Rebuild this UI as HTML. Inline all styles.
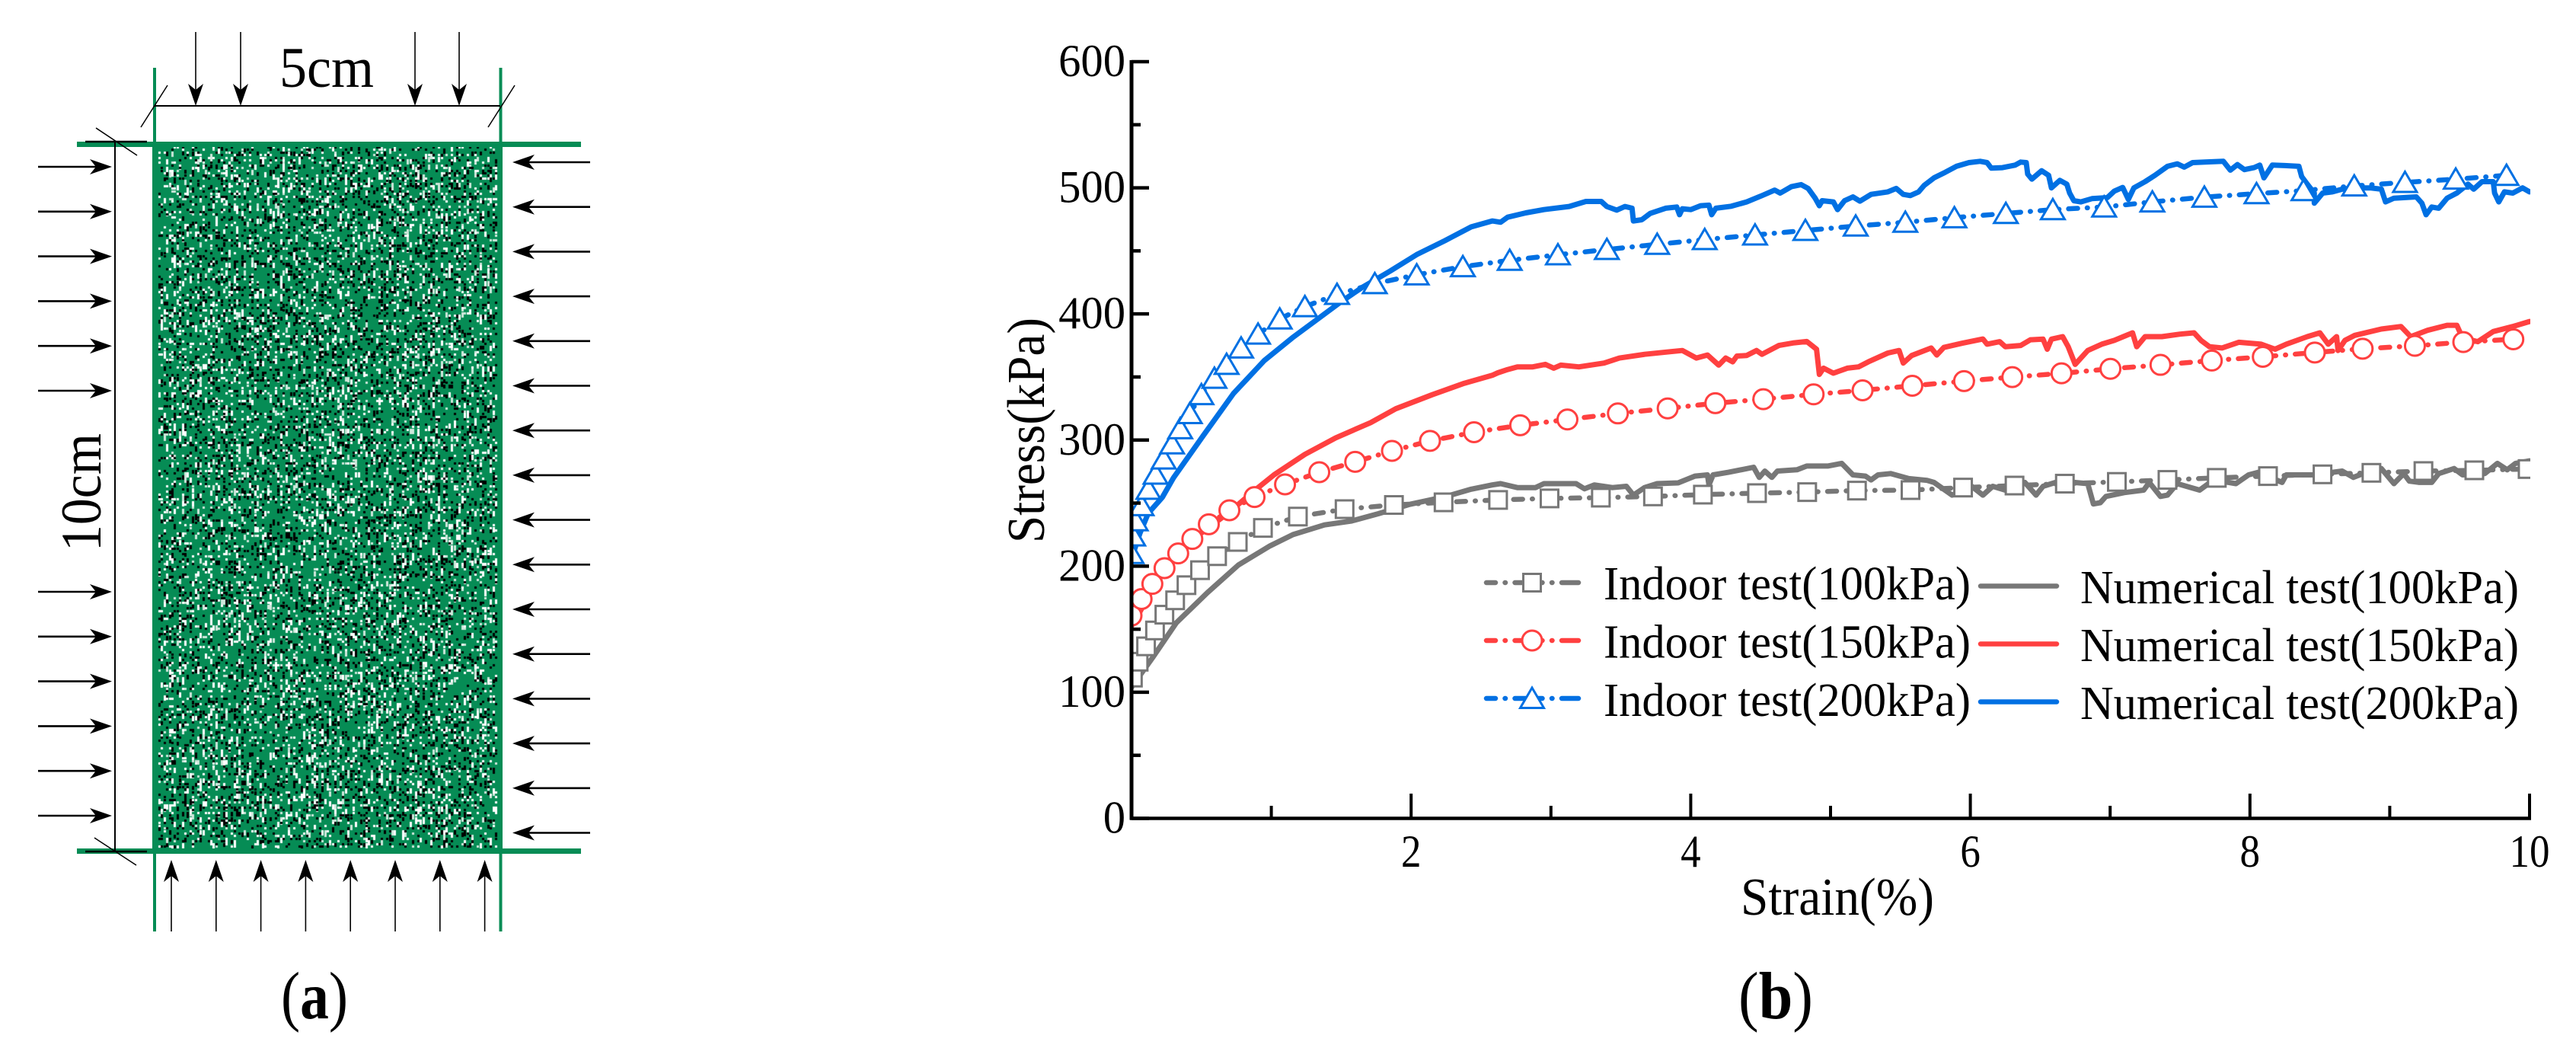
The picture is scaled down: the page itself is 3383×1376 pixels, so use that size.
<!DOCTYPE html>
<html lang="en">
<head>
<meta charset="utf-8">
<title>Specimen schematic and stress-strain curves</title>
<style>
html,body{margin:0;padding:0;background:#fff;}
#page{position:relative;width:3383px;height:1376px;overflow:hidden;background:#fff;}
#speckle{position:absolute;left:200px;top:186px;}
#fig{position:absolute;left:0;top:0;}
text{font-family:"Liberation Serif","DejaVu Serif",serif;fill:#000;}
</style>
</head>
<body>
<div id="page">
<canvas id="speckle" width="460" height="935"></canvas>
<svg id="fig" width="3383" height="1376" viewBox="0 0 3383 1376" xmlns="http://www.w3.org/2000/svg">
  <defs><clipPath id="plotClip"><rect x="1486" y="40" width="1837" height="1040"/></clipPath></defs>

  <g id="schematic">
    <rect x="101" y="186" width="662" height="7" fill="#068c55"/>
    <rect x="101" y="1114" width="662" height="7" fill="#068c55"/>
    <line x1="203" y1="89" x2="203" y2="188" stroke="#068c55" stroke-width="4"/>
    <line x1="657.5" y1="89" x2="657.5" y2="188" stroke="#068c55" stroke-width="4"/>
    <line x1="203" y1="1120" x2="203" y2="1223" stroke="#068c55" stroke-width="4"/>
    <line x1="657.5" y1="1120" x2="657.5" y2="1223" stroke="#068c55" stroke-width="4"/>
    <line x1="203" y1="139" x2="657" y2="139" stroke="#000" stroke-width="2"/>
    <line x1="220" y1="112" x2="185" y2="167" stroke="#000" stroke-width="1.5"/>
    <line x1="676" y1="112" x2="641" y2="167" stroke="#000" stroke-width="1.5"/>
    <line x1="151" y1="186" x2="151" y2="1118" stroke="#000" stroke-width="2"/>
    <line x1="112" y1="186" x2="193" y2="186" stroke="#000" stroke-width="2.5"/>
    <line x1="112" y1="1118" x2="193" y2="1118" stroke="#000" stroke-width="2.5"/>
    <line x1="126" y1="168" x2="180" y2="204" stroke="#000" stroke-width="1.5"/>
    <line x1="124" y1="1100" x2="179" y2="1136" stroke="#000" stroke-width="1.5"/>
    <text x="367" y="114" font-size="75" textLength="124" lengthAdjust="spacingAndGlyphs">5cm</text>
    <text transform="translate(132 724) rotate(-90)" font-size="75" textLength="155" lengthAdjust="spacingAndGlyphs">10cm</text>
    <text x="369" y="1337" font-size="88" textLength="88" lengthAdjust="spacingAndGlyphs">(<tspan font-weight="bold">a</tspan>)</text>
    <g id="arrows"></g>
  </g>

  <g id="chart">
    <g id="numerical" clip-path="url(#plotClip)"></g>
    <g id="indoor" clip-path="url(#plotClip)"></g>
    <g id="axes"></g>
    <text transform="translate(1371 713) rotate(-90)" font-size="70" textLength="296" lengthAdjust="spacingAndGlyphs">Stress(kPa)</text>
    <text x="2286" y="1201" font-size="70" textLength="254" lengthAdjust="spacingAndGlyphs">Strain(%)</text>
    <g id="legend"></g>
    <text x="2283" y="1337" font-size="88" textLength="98" lengthAdjust="spacingAndGlyphs">(<tspan font-weight="bold">b</tspan>)</text>
  </g>
</svg>
</div>
<script>
// ---------- chart data ----------
const yTickValues = [0,100,200,300,400,500,600];
const yMinorValues = [50,150,250,350,450,550];
const xTickValues = [2,4,6,8,10];
const xMinorValues = [1,3,5,7,9];
const legendIndoorLabels = ['Indoor test(100kPa)','Indoor test(150kPa)','Indoor test(200kPa)'];
const legendNumericalLabels = ['Numerical test(100kPa)','Numerical test(150kPa)','Numerical test(200kPa)'];

const numerical200Strain = [0,.06,.12,.22,.30,.51,.73,.95,1.15,1.32,1.49,1.65,1.85,2.04,2.24,2.43,2.58,2.64,2.69,2.82,2.95,3.13,3.25,3.36,3.40,3.47,3.53,3.58,3.59,3.65,3.71,3.82,3.90,3.92,3.94,4.00,4.07,4.13,4.15,4.18,4.29,4.40,4.51,4.60,4.64,4.72,4.79,4.84,4.89,4.92,4.94,5.02,5.05,5.10,5.16,5.21,5.29,5.41,5.47,5.52,5.57,5.63,5.67,5.74,5.82,5.90,5.99,6.07,6.12,6.15,6.23,6.32,6.36,6.40,6.41,6.44,6.51,6.56,6.58,6.64,6.69,6.71,6.74,6.79,6.87,6.98,7.03,7.09,7.13,7.17,7.25,7.32,7.41,7.48,7.53,7.59,7.68,7.81,7.86,7.91,7.96,8.03,8.07,8.10,8.16,8.25,8.35,8.37,8.41,8.46,8.46,8.52,8.59,8.66,8.75,8.86,8.94,8.97,9.03,9.19,9.23,9.26,9.30,9.35,9.41,9.48,9.56,9.60,9.66,9.74,9.75,9.78,9.82,9.88,9.95,10];
const numerical200Stress = [206,226,242,254.5,270,303,337,363,381,395,409,421,434,447,458,469,473.7,472.7,476.7,480.1,482.7,485.2,489.2,489.2,485.2,482.3,485.2,483.8,473.7,474.7,479.7,483.8,484.8,478.7,483.4,482.7,485.8,486.2,478.7,483.8,485.4,488.8,493.8,498.2,495.8,500.9,502.5,499.5,491.8,485.8,489.8,488.8,482.7,489.8,492.8,489.4,494.8,496.8,499.5,494.8,493.8,496.8,501.9,507.9,512.3,517,520,521,520,515.6,516,518,520.4,520,510.9,506.9,513.5,509.9,499.9,505.9,502.9,495.8,489.8,488.8,491.4,492.2,497.4,500.3,490.8,499.9,504.9,509.9,517,519,516.4,520,520.4,521,514,518.4,514.4,516,518,507.9,518,517.6,517,508.9,502.9,495.8,487.8,495.8,496.8,498.9,499.9,499.9,498.9,488.8,491.8,492.8,487.8,478.7,484.8,483.8,491.8,495.8,502.9,498.9,504.9,504.9,495.8,488.8,496.8,495.8,499.9,496.8];

const numerical150Strain = [0,.05,.2,.4,.69,.88,1.02,1.24,1.46,1.71,1.89,2.15,2.38,2.58,2.62,2.69,2.76,2.87,2.96,3.02,3.07,3.20,3.38,3.49,3.67,3.85,3.94,4.04,4.12,4.20,4.25,4.30,4.33,4.40,4.47,4.51,4.63,4.74,4.83,4.90,4.92,4.95,5.02,5.12,5.20,5.27,5.41,5.49,5.52,5.58,5.72,5.76,5.81,5.94,6.09,6.12,6.21,6.25,6.36,6.43,6.52,6.55,6.58,6.66,6.70,6.75,6.84,6.94,7.03,7.16,7.19,7.25,7.37,7.50,7.60,7.65,7.71,7.80,7.92,8.08,8.18,8.26,8.41,8.50,8.56,8.62,8.63,8.68,8.75,8.94,9.08,9.15,9.27,9.41,9.48,9.52,9.63,9.74,9.88,10];
const numerical150Stress = [152.7,161.8,192,218,242,260,272.5,288.6,301.7,313.8,324.8,335.9,345,351.3,353.3,355.9,358,358,360,357,359.4,358,361,365,368,370,371,365,367.4,359.4,365,362,366.6,367,371,368,375,377.1,378.1,372,352,357,353,357,358,362,369,371,361,367,373,367.4,373.4,376.7,380.1,376,378,374,375,379.5,380,372,380,382,374,360,371,376,379,385,374,382,382,384,385,379,374,373,377.5,376,372,376,382,385,376,382,371,379,383,388,390,382,387,391,391,381,378,386,390,394];

const numerical100Strain = [0,.154,.32,.543,.765,.99,1.155,1.38,1.57,1.765,1.99,2.24,2.43,2.58,2.64,2.76,2.89,2.95,3.18,3.24,3.31,3.44,3.54,3.59,3.67,3.76,3.91,4.03,4.12,4.13,4.16,4.27,4.45,4.49,4.53,4.58,4.62,4.76,4.83,4.98,5.08,5.16,5.25,5.29,5.34,5.43,5.56,5.69,5.74,5.87,6.01,6.09,6.16,6.25,6.39,6.47,6.52,6.61,6.74,6.84,6.88,6.93,6.97,7.10,7.24,7.28,7.36,7.41,7.48,7.64,7.74,7.90,7.99,8.06,8.23,8.26,8.45,8.66,8.74,8.81,8.94,9.03,9.10,9.14,9.21,9.30,9.35,9.46,9.52,9.68,9.77,9.84,9.90,10];
const numerical100Stress = [104,128,155,179,201,216,225,232.7,235.7,241.6,249,255,261,264.4,265.4,262.3,262.3,265.4,265.4,261.3,264.4,262.3,263.3,256.3,262.3,265.4,266,271.4,272.4,264.4,272.4,274.4,278.4,270.4,275.4,270.4,275.4,276.4,279.4,279.4,281.5,272.4,271.4,268.4,272.4,273.4,269.4,268,266.4,256.3,263.3,256.3,263.3,260.3,266.4,256.3,263.3,266.4,266.4,265.4,249.3,250.3,255.3,258.3,260.3,266.4,255.3,256.3,265.4,260.3,268.4,265.4,272.4,274.4,266.4,272.4,272.4,275.4,270.4,273.4,277.4,265.4,273.4,267.4,266.4,266.4,273.4,277.4,272.4,273.4,281.5,276.4,281.5,283.5];

const indoor200Strain = [0,.012,.03,.072,.121,.172,.23,.29,.348,.417,.50,.593,.68,.784,.905,1.06,1.24,1.47,1.74,2.04,2.37,2.705,3.05,3.40,3.76,4.10,4.46,4.82,5.18,5.535,5.886,6.254,6.59,6.957,7.302,7.674,8.047,8.383,8.746,9.109,9.472,9.835];
const indoor200Stress = [210,224,236,248,261,273,285,297,309,321,336,349,360,373,384,396,405.8,415.5,424,431,437.5,442.5,446.9,451.1,455.2,459,462.6,466.2,469.7,472.7,476.3,479.7,482.7,484.8,488.8,492.6,495.4,497.8,501.5,504.3,506.9,509.9];

const indoor150Strain = [0,.072,.149,.236,.334,.435,.553,.70,.88,1.098,1.343,1.60,1.863,2.135,2.45,2.78,3.118,3.479,3.835,4.176,4.519,4.879,5.229,5.585,5.955,6.30,6.652,7.002,7.36,7.727,8.092,8.464,8.806,9.18,9.526,9.884];
const indoor150Stress = [160.8,173.9,185.9,198.4,210.1,221.6,233.2,244.3,254.8,264.8,274.5,282.7,291.4,299.3,306.2,311.7,316.3,321.1,325.1,329.2,332.4,336.2,339.4,343,346.7,349.9,352.9,356.5,359.6,363,366,369.4,372.4,374.7,377.7,379.9];

const indoor100Strain = [.01,.051,.104,.168,.235,.312,.393,.49,.612,.76,.94,1.19,1.524,1.877,2.232,2.622,2.99,3.357,3.73,4.087,4.474,4.833,5.189,5.572,5.948,6.316,6.676,7.048,7.41,7.763,8.129,8.519,8.869,9.241,9.605,9.986];
const indoor100Stress = [111.6,124.2,136.4,149,161.5,172.9,184.9,196.8,207.9,219.2,230.3,239.3,245.2,248.5,250.6,252.5,253.7,254.3,255.3,256.7,257.9,258.7,259.9,260.3,262.3,263.9,265.4,266.8,268.4,270,271.4,272.8,274,275.4,276,277];

// ---------- axis functions ----------
const SVGNS = 'http://www.w3.org/2000/svg';
const plotLeft = 1486, plotRight = 3322, plotBottom = 1074.5, plotTop = 81;
const xMax = 10, yMax = 600;
function xScale(v){ return plotLeft + (plotRight - plotLeft) * v / xMax; }
function yScale(v){ return plotBottom - (plotBottom - plotTop) * v / yMax; }
function mk(tag, parent){ const e = document.createElementNS(SVGNS, tag); parent.appendChild(e); return e; }
function pathFrom(xs, ys){ return xs.map((x,i)=>(i?'L':'M')+xScale(x).toFixed(1)+' '+yScale(ys[i]).toFixed(1)).join(' '); }

const COLORS = {gray:'#777777', red:'#ff4040', blue:'#0070e3'};
const DASH = '12 12.5 0.5 12.5';

// ---------- numerical series ----------
const numG = document.getElementById('numerical');
function drawNumerical(xs, ys, color, name){
  const p = mk('path', numG);
  p.setAttribute('d', pathFrom(xs, ys));
  p.setAttribute('fill', 'none');
  p.setAttribute('stroke', color);
  p.setAttribute('stroke-width', '7');
  p.setAttribute('stroke-linejoin', 'round');
  p.setAttribute('stroke-linecap', 'round');
  
  
}
drawNumerical(numerical100Strain, numerical100Stress, COLORS.gray, 'numerical-line-100kpa');
drawNumerical(numerical150Strain, numerical150Stress, COLORS.red, 'numerical-line-150kpa');
drawNumerical(numerical200Strain, numerical200Stress, COLORS.blue, 'numerical-line-200kpa');

// ---------- markers ----------
function drawMarker(parent, kind, cx, cy, color){
  let m;
  if(kind === 'square'){
    m = mk('rect', parent);
    m.setAttribute('x', cx - 11.5);
    m.setAttribute('y', cy - 11.5);
    m.setAttribute('width', 23);
    m.setAttribute('height', 23);
    
  } else if(kind === 'circle'){
    m = mk('circle', parent);
    m.setAttribute('cx', cx);
    m.setAttribute('cy', cy);
    m.setAttribute('r', 13);
    
  } else {
    m = mk('path', parent);
    m.setAttribute('d', 'M'+cx+' '+(cy-14)+' L'+(cx+15.5)+' '+(cy+12.5)+' L'+(cx-15.5)+' '+(cy+12.5)+' Z');
    
  }
  
  m.setAttribute('fill', '#fff');
  m.setAttribute('stroke', color);
  m.setAttribute('stroke-width', '3');
}

// ---------- indoor series ----------
const indG = document.getElementById('indoor');
function drawIndoor(xs, ys, color, kind, name){
  const g = mk('g', indG);
  
  
  const p = mk('path', g);
  p.setAttribute('d', pathFrom(xs, ys));
  p.setAttribute('fill', 'none');
  p.setAttribute('stroke', color);
  p.setAttribute('stroke-width', '6.5');
  p.setAttribute('stroke-linecap', 'round');
  p.setAttribute('stroke-dasharray', DASH);
  
  
  xs.forEach((x,i)=>drawMarker(g, kind, xScale(x), yScale(ys[i]), color));
}
drawIndoor(indoor100Strain, indoor100Stress, COLORS.gray, 'square', 'indoor-series-100kpa');
drawIndoor(indoor150Strain, indoor150Stress, COLORS.red, 'circle', 'indoor-series-150kpa');
drawIndoor(indoor200Strain, indoor200Stress, COLORS.blue, 'triangle', 'indoor-series-200kpa');

// ---------- axes ----------
const axG = document.getElementById('axes');
function axLine(x1,y1,x2,y2,w,name){
  const l = mk('line', axG);
  l.setAttribute('x1', x1);
  l.setAttribute('y1', y1);
  l.setAttribute('x2', x2);
  l.setAttribute('y2', y2);
  l.setAttribute('stroke', '#000');
  l.setAttribute('stroke-width', w);
  
  
}
axLine(plotLeft, plotTop-2, plotLeft, plotBottom+2, 5, 'y-axis-line');
axLine(plotLeft-2, plotBottom, plotRight+2, plotBottom, 4.5, 'x-axis-line');
yTickValues.forEach(v=>{
  axLine(plotLeft, yScale(v), 1509, yScale(v), 4.5, 'y-major-tick');
  const t = mk('text', axG);
  t.textContent = String(v);
  t.setAttribute('x', 1478);
  t.setAttribute('y', yScale(v)+19);
  t.setAttribute('font-size', '60');
  t.setAttribute('text-anchor', 'end');
  t.setAttribute('textLength', String(t.textContent.length*29.3));
  t.setAttribute('lengthAdjust', 'spacingAndGlyphs');
  
  
});
yMinorValues.forEach(v=>axLine(plotLeft, yScale(v), 1498, yScale(v), 4.5, 'y-minor-tick'));
xTickValues.forEach(v=>{
  axLine(xScale(v), plotBottom, xScale(v), 1042, 4, 'x-major-tick');
  const t = mk('text', axG);
  t.textContent = String(v);
  t.setAttribute('x', xScale(v));
  t.setAttribute('y', 1138);
  t.setAttribute('font-size', '60');
  t.setAttribute('text-anchor', 'middle');
  t.setAttribute('textLength', String(t.textContent.length*26.5));
  t.setAttribute('lengthAdjust', 'spacingAndGlyphs');
  
  
});
xMinorValues.forEach(v=>axLine(xScale(v), plotBottom, xScale(v), 1058, 4, 'x-minor-tick'));

// ---------- legend ----------
const legG = document.getElementById('legend');
const legendColors = [COLORS.gray, COLORS.red, COLORS.blue];
const legendKinds = ['square','circle','triangle'];
legendIndoorLabels.forEach((label,i)=>{
  const rowY = 765 + 76*i;
  const l = mk('line', legG);
  l.setAttribute('x1', 1952);
  l.setAttribute('y1', rowY);
  l.setAttribute('x2', 2073);
  l.setAttribute('y2', rowY);
  l.setAttribute('stroke', legendColors[i]);
  l.setAttribute('stroke-width', '6.5');
  l.setAttribute('stroke-linecap', 'round');
  l.setAttribute('stroke-dasharray', '12 12.5 0.5 12.5 36 12.5 0.5 12.5 12 0');
  
  
  drawMarker(legG, legendKinds[i], 2012, rowY, legendColors[i]);
  const t = mk('text', legG);
  t.textContent = label;
  t.setAttribute('x', 2106);
  t.setAttribute('y', 787 + 76.5*i);
  t.setAttribute('font-size', '62');
  t.setAttribute('textLength', '482');
  t.setAttribute('lengthAdjust', 'spacingAndGlyphs');
  
  
});
legendNumericalLabels.forEach((label,i)=>{
  const rowY = 769.5 + 76*i;
  const l = mk('line', legG);
  l.setAttribute('x1', 2601);
  l.setAttribute('y1', rowY);
  l.setAttribute('x2', 2701);
  l.setAttribute('y2', rowY);
  l.setAttribute('stroke', legendColors[i]);
  l.setAttribute('stroke-width', '6.5');
  l.setAttribute('stroke-linecap', 'round');
  
  
  const t = mk('text', legG);
  t.textContent = label;
  t.setAttribute('x', 2732);
  t.setAttribute('y', 792 + 76*i);
  t.setAttribute('font-size', '62');
  t.setAttribute('textLength', '576');
  t.setAttribute('lengthAdjust', 'spacingAndGlyphs');
  
  
});

// ---------- schematic arrows ----------
const arG = document.getElementById('arrows');
function arrow(x1,y1,x2,y2,w){
  const dx = Math.sign(x2-x1), dy = Math.sign(y2-y1);
  const g = mk('g', arG);
  
  
  const shaft = mk('line', g);
  shaft.setAttribute('x1', x1);
  shaft.setAttribute('y1', y1);
  shaft.setAttribute('x2', x2 - dx*8);
  shaft.setAttribute('y2', y2 - dy*8);
  shaft.setAttribute('stroke', '#000');
  shaft.setAttribute('stroke-width', w);
  const head = mk('path', g);
  const px = -dy*10, py = dx*10;
  const bx = x2 - dx*29, by = y2 - dy*29;
  const nx = x2 - dx*21, ny = y2 - dy*21;
  head.setAttribute('d', 'M'+x2+' '+y2+' L'+(bx+px)+' '+(by+py)+' L'+nx+' '+ny+' L'+(bx-px)+' '+(by-py)+' Z');
  head.setAttribute('fill', '#000');
}
for(let i=0;i<6;i++) arrow(50, 219+58.8*i, 147, 219+58.8*i, 2.6);
for(let i=0;i<6;i++) arrow(50, 777+58.8*i, 147, 777+58.8*i, 2.6);
for(let i=0;i<16;i++) arrow(775, 213+58.7*i, 673, 213+58.7*i, 2.6);
[257,316,545,603].forEach(x=>arrow(x, 42, x, 139, 1.6));
for(let i=0;i<8;i++){ const x = 225+58.8*i; arrow(x, 1223, x, 1129, 1.6); }

// ---------- specimen texture ----------
(function(){
  const c = document.getElementById('speckle').getContext('2d');
  c.fillStyle = '#068c55';
  c.fillRect(0,0,460,935);
  let s = 20240611;
  function r(){ s = (s*1664525 + 1013904223) >>> 0; return (s>>>8)/16777216; }
  const cell = 3.4;
  for(let y=6; y<925; y+=cell){
    for(let x=8; x<452; x+=cell){
      const q = r();
      if(q < 0.17){
        c.fillStyle = '#000';
        c.fillRect(Math.round(x),Math.round(y),3,r()<.25?5:3);
      } else if(q < 0.32){
        c.fillStyle = r()<.75 ? '#fff' : '#cfe8dc';
        c.fillRect(Math.round(x),Math.round(y),3,r()<.3?7:3);
      }
    }
  }
})();
</script>
</body>
</html>
